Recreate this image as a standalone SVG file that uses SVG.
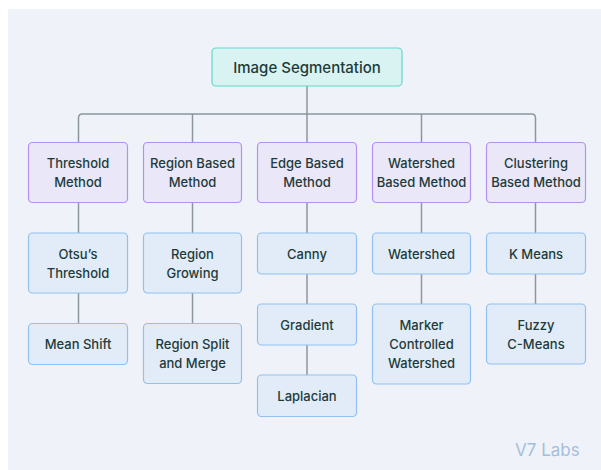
<svg xmlns="http://www.w3.org/2000/svg" width="601" height="470" viewBox="0 0 601 470">
  <style>
    text { font-family: Inter, "Noto Sans", "Liberation Sans", sans-serif; fill: #1e3b3b; text-anchor: middle; dominant-baseline: central; font-size: 13px; font-weight: 500; }
    .root rect { fill: #d9f3f3; stroke: #5ed9cd; stroke-width: 1.2; }
    .method rect { fill: #e9e7f8; stroke: #b690f0; stroke-width: 1.2; }
    .leaf rect { fill: #e1ecf8; stroke: #92c0f0; stroke-width: 1.2; }
    #connectors path { fill: none; stroke: #8b969f; stroke-width: 1.5; }
    .brand { fill: #a5bedc; font-size: 17px; font-weight: 400; text-anchor: start; }
  </style>

  <rect x="0" y="0" width="601" height="470" fill="#ffffff"/>
  <rect x="8" y="9" width="593" height="461" fill="#eff3f9"/>

  <g id="connectors">
    <path d="M307 86 V114"/>
    <path d="M78.5 142 V118 Q78.5 114 82.5 114 H531.5 Q535.5 114 535.5 118 V142"/>
    <path d="M192.5 114 V142"/>
    <path d="M307 114 V142"/>
    <path d="M421.5 114 V142"/>
    <path d="M78.5 203 V233"/>
    <path d="M192.5 203 V233"/>
    <path d="M307 203 V233"/>
    <path d="M421.5 203 V233"/>
    <path d="M535.5 203 V233"/>
    <path d="M78.5 293 V323"/>
    <path d="M192.5 293 V323"/>
    <path d="M307 274 V304"/>
    <path d="M307 345 V375"/>
    <path d="M421.5 274 V304"/>
    <path d="M535.5 274 V304"/>
  </g>

  <g id="image-segmentation" class="root">
    <rect x="212" y="48" width="190" height="38" rx="4"/>
    <text x="307" y="67" style="font-size:15px">Image Segmentation</text>
  </g>

  <g id="threshold-method" class="method">
    <rect x="28.5" y="142.5" width="99" height="60" rx="4"/>
    <text x="78" y="163">Threshold</text>
    <text x="78" y="182">Method</text>
  </g>
  <g id="region-based-method" class="method">
    <rect x="143.5" y="142.5" width="98" height="60" rx="4"/>
    <text x="192.5" y="163">Region Based</text>
    <text x="192.5" y="182">Method</text>
  </g>
  <g id="edge-based-method" class="method">
    <rect x="257.5" y="142.5" width="99" height="60" rx="4"/>
    <text x="307" y="163">Edge Based</text>
    <text x="307" y="182">Method</text>
  </g>
  <g id="watershed-based-method" class="method">
    <rect x="372.5" y="142.5" width="98" height="60" rx="4"/>
    <text x="421.5" y="163">Watershed</text>
    <text x="421.5" y="182">Based Method</text>
  </g>
  <g id="clustering-based-method" class="method">
    <rect x="486.5" y="142.5" width="99" height="60" rx="4"/>
    <text x="536" y="163">Clustering</text>
    <text x="536" y="182">Based Method</text>
  </g>

  <g id="otsus-threshold" class="leaf">
    <rect x="28.5" y="233" width="99" height="60" rx="4"/>
    <text x="78" y="253.5">Otsu’s</text>
    <text x="78" y="272.5">Threshold</text>
  </g>
  <g id="mean-shift" class="leaf">
    <rect x="28.5" y="323.5" width="99" height="41" rx="4"/>
    <text x="78" y="344">Mean Shift</text>
  </g>
  <g id="region-growing" class="leaf">
    <rect x="143.5" y="233" width="98" height="60" rx="4"/>
    <text x="192.5" y="253.5">Region</text>
    <text x="192.5" y="272.5">Growing</text>
  </g>
  <g id="region-split-and-merge" class="leaf">
    <rect x="143.5" y="323.5" width="98" height="60" rx="4"/>
    <text x="192.5" y="344">Region Split</text>
    <text x="192.5" y="363">and Merge</text>
  </g>
  <g id="canny" class="leaf">
    <rect x="257.5" y="233" width="99" height="41" rx="4"/>
    <text x="307" y="253.5">Canny</text>
  </g>
  <g id="gradient" class="leaf">
    <rect x="257.5" y="304" width="99" height="41" rx="4"/>
    <text x="307" y="324.5">Gradient</text>
  </g>
  <g id="laplacian" class="leaf">
    <rect x="257.5" y="375" width="99" height="41.5" rx="4"/>
    <text x="307" y="396">Laplacian</text>
  </g>
  <g id="watershed" class="leaf">
    <rect x="372.5" y="233" width="98" height="41" rx="4"/>
    <text x="421.5" y="253.5">Watershed</text>
  </g>
  <g id="marker-controlled-watershed" class="leaf">
    <rect x="372.5" y="304" width="98" height="80" rx="4"/>
    <text x="421.5" y="325">Marker</text>
    <text x="421.5" y="344">Controlled</text>
    <text x="421.5" y="363">Watershed</text>
  </g>
  <g id="k-means" class="leaf">
    <rect x="486.5" y="233" width="99" height="41" rx="4"/>
    <text x="536" y="253.5">K Means</text>
  </g>
  <g id="fuzzy-c-means" class="leaf">
    <rect x="486.5" y="304" width="99" height="60" rx="4"/>
    <text x="536" y="325">Fuzzy</text>
    <text x="536" y="344">C-Means</text>
  </g>

  <text class="brand" x="515" y="450">V7 Labs</text>
</svg>
